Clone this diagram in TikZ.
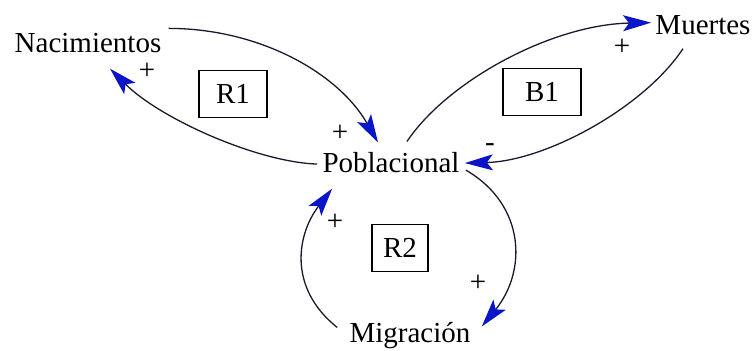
\documentclass[tikz,border=0pt]{standalone}
\usepackage{fontspec}
\setmainfont{LiberationSerif}[Extension=.ttf,UprightFont=*-Regular]
\usetikzlibrary{arrows.meta}
\definecolor{cldink}{HTML}{1A1A2E}
\definecolor{cldhead}{HTML}{0A14C8}
\tikzset{
  cldvar/.style={inner sep=1pt,font=\fontsize{14.5}{17}\selectfont,text=black,anchor=base},
  cldloop/.style={rectangle,draw=black,line width=0.6pt,inner sep=0pt,
    minimum height=23.5pt,font=\fontsize{14.5}{17}\selectfont},
  cldarr/.style={-{Stealth[length=14pt,width=8pt,inset=3pt,color=cldhead]},line width=0.65pt,color=cldink},
  cldsign/.style={font=\fontsize{14.5}{17}\selectfont,inner sep=0pt},
}

\begin{document}
\begin{tikzpicture}[x=0.5pt,y=-0.5pt]
  \useasboundingbox (0,0) rectangle (754,351);
  % variables
  \node[cldvar] (nac) at (88,53) {Nacimientos};
  \node[cldvar] (mue) at (703,35) {Muertes};
  \node[cldvar] (pob) at (391,173) {Poblacional};
  \node[cldvar] (mig) at (410,343) {Migración};
  % loops
  \node[cldloop,minimum width=34pt] (r1) at (233,94) {R1};
  \node[cldloop,minimum width=39pt] (b1) at (542,92) {B1};
  \node[cldloop,minimum width=28pt] (r2) at (400,248) {R2};

  \draw[cldarr] ([shift={(5,-3)}]nac.north east) .. controls +(90,0) and +(-40,-70) .. ([shift={(-13,-8)}]pob.north);
  \draw[cldarr] ([shift={(-3,1)}]pob.west) .. controls +(-60,-2) and +(50,50) .. ([shift={(22,13)}]nac.south);
  \draw[cldarr] ([shift={(16,-9)}]pob.north) .. controls +(40,-60) and +(-100,2) .. ([shift={(-2,-3)}]mue.west);
  \draw[cldarr] ([shift={(-20,11)}]mue.south) .. controls +(-40,60) and +(80,-2) .. ([shift={(3,0)}]pob.east);
  \draw[cldarr] ([shift={(4,7)}]pob.east) .. controls +(60,35) and +(45,-55) .. ([shift={(9,6)}]mig.north east);
  \draw[cldarr] ([shift={(-10,7)}]mig.north west) .. controls +(-50,-40) and +(-35,45) .. ([shift={(12,13)}]pob.south west);

  % polarity signs
  \node[cldsign] (s1) at (147,71) {+};
  \node[cldsign] (s2) at (340,133) {+};
  \node[cldsign] (s3) at (622,47) {+};
  \node[cldsign] (s4) at (490,148) {-};
  \node[cldsign] (s5) at (335,222) {+};
  \node[cldsign] (s6) at (478,283) {+};
\end{tikzpicture}
\end{document}
